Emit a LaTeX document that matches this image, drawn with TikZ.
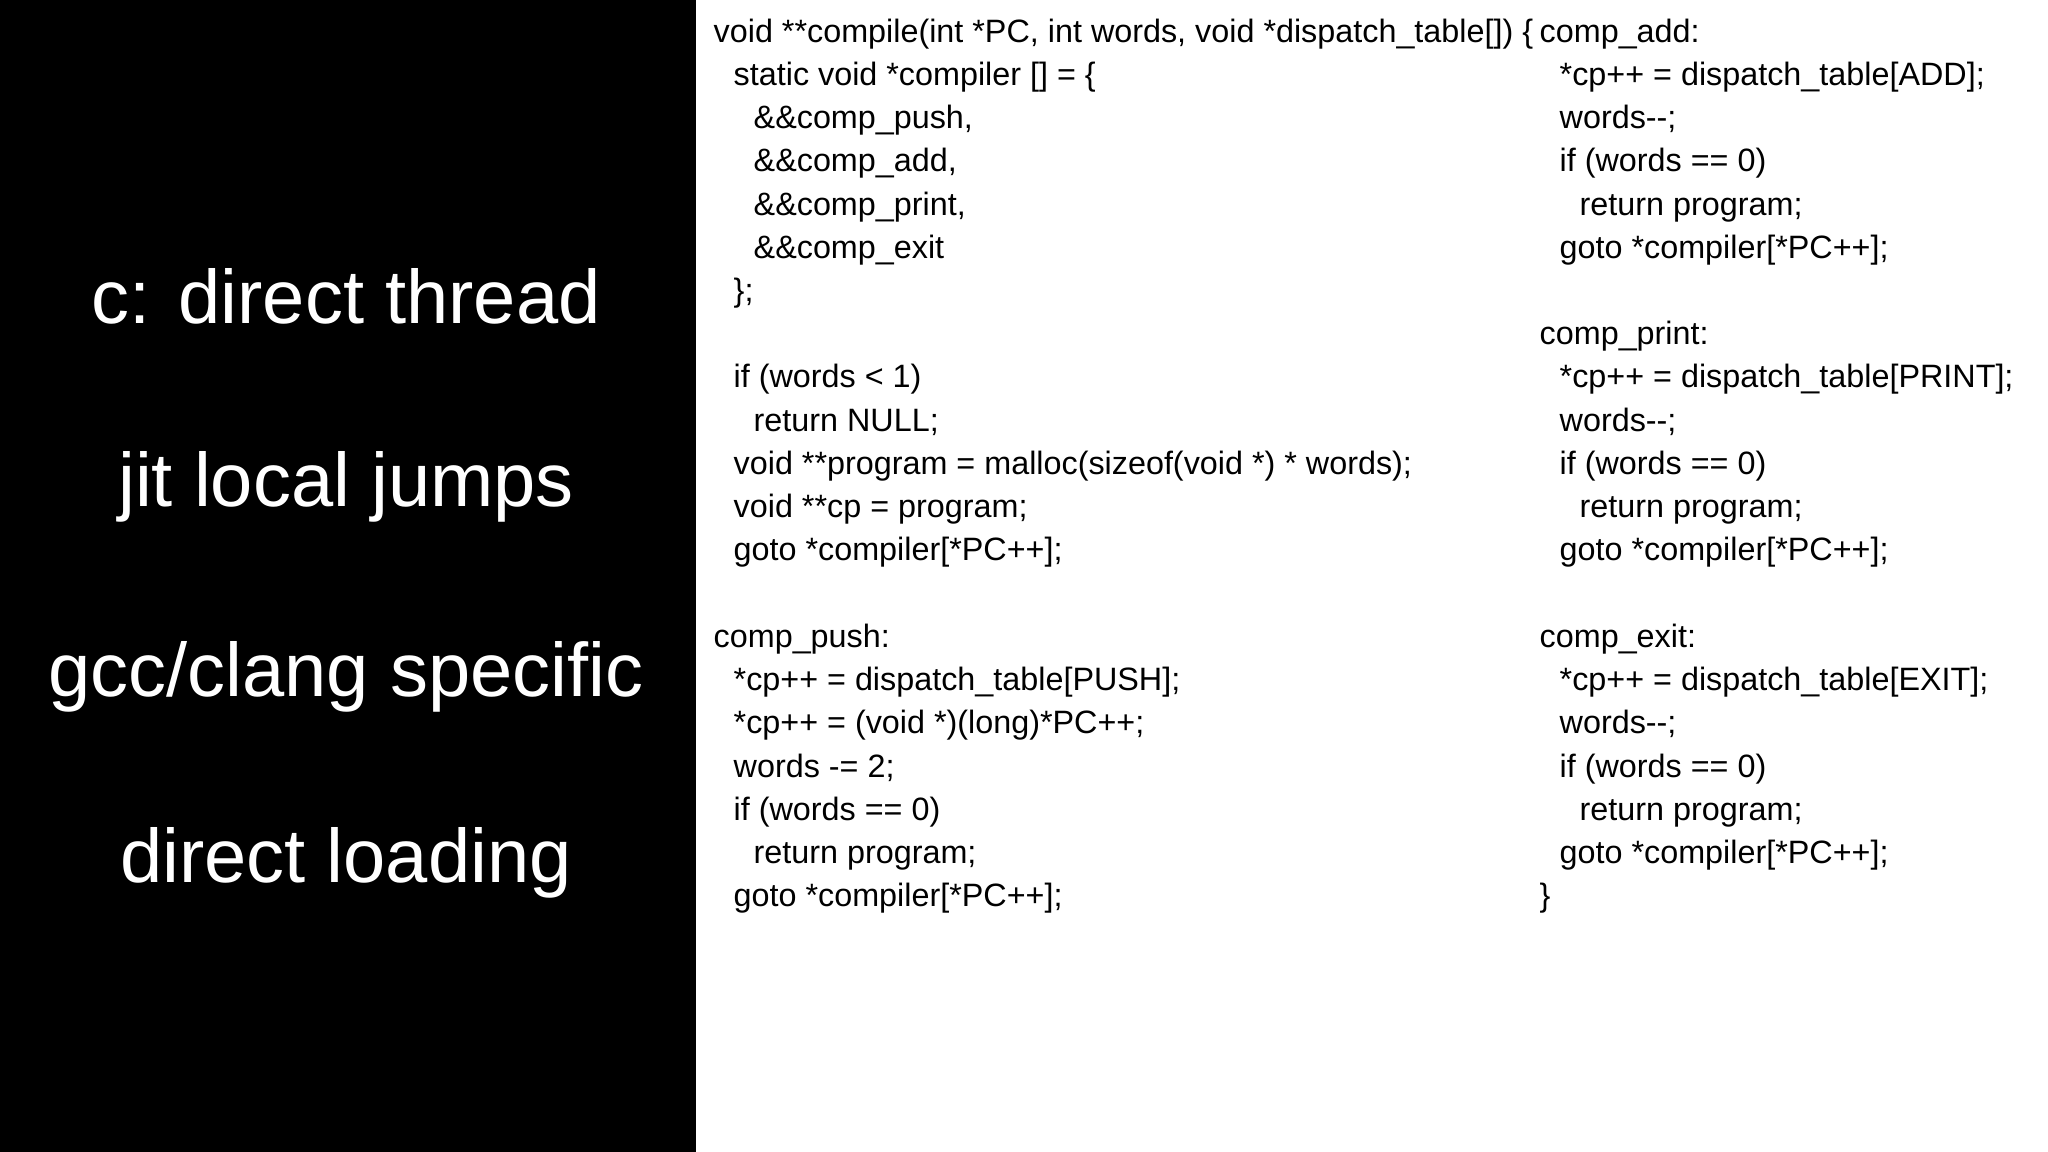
\documentclass[tikz,border=0pt]{standalone}
\usepackage{fontspec}
\setmainfont{Liberation Sans}
\begin{document}
\begin{tikzpicture}
\tikzset{big/.style={text=white,font=\fontsize{21.6}{25}\selectfont,anchor=center},
code/.style={anchor=north west,align=left,inner sep=0pt,font=\fontsize{9.2}{12.3}\selectfont}}
\useasboundingbox (0,0) rectangle (20.48,-11.52);
\fill[white] (0,0) rectangle (20.48,-11.52);
\fill[black] (0,0) rectangle (6.96,-11.52);
\node[big] (t1) at (3.46,-2.96) {c: direct thread};
\node[big] (t2) at (3.46,-4.87) {jit local jumps};
\node[big] (t3) at (3.46,-6.77) {gcc/clang specific};
\node[big] (t4) at (3.46,-8.63) {direct loading};
\def\I{\hspace*{0.2cm}}
\node[code] (c1) at (7.13,-0.18) {void **compile(int *PC, int words, void *dispatch\_table[]) \{\\
\I static void *compiler [] = \{\\
\I\I \&\&comp\_push,\\
\I\I \&\&comp\_add,\\
\I\I \&\&comp\_print,\\
\I\I \&\&comp\_exit\\
\I \};\\
\mbox{}\\
\I if (words < 1)\\
\I\I return NULL;\\
\I void **program = malloc(sizeof(void *) * words);\\
\I void **cp = program;\\
\I goto *compiler[*PC++];\\
\mbox{}\\
comp\_push:\\
\I *cp++ = dispatch\_table[PUSH];\\
\I *cp++ = (void *)(long)*PC++;\\
\I words -= 2;\\
\I if (words == 0)\\
\I\I return program;\\
\I goto *compiler[*PC++];};
\node[code] (c2) at (15.39,-0.18) {comp\_add:\\
\I *cp++ = dispatch\_table[ADD];\\
\I words-{}-;\\
\I if (words == 0)\\
\I\I return program;\\
\I goto *compiler[*PC++];\\
\mbox{}\\
comp\_print:\\
\I *cp++ = dispatch\_table[PRINT];\\
\I words-{}-;\\
\I if (words == 0)\\
\I\I return program;\\
\I goto *compiler[*PC++];\\
\mbox{}\\
comp\_exit:\\
\I *cp++ = dispatch\_table[EXIT];\\
\I words-{}-;\\
\I if (words == 0)\\
\I\I return program;\\
\I goto *compiler[*PC++];\\
\}};
\end{tikzpicture}
\end{document}
